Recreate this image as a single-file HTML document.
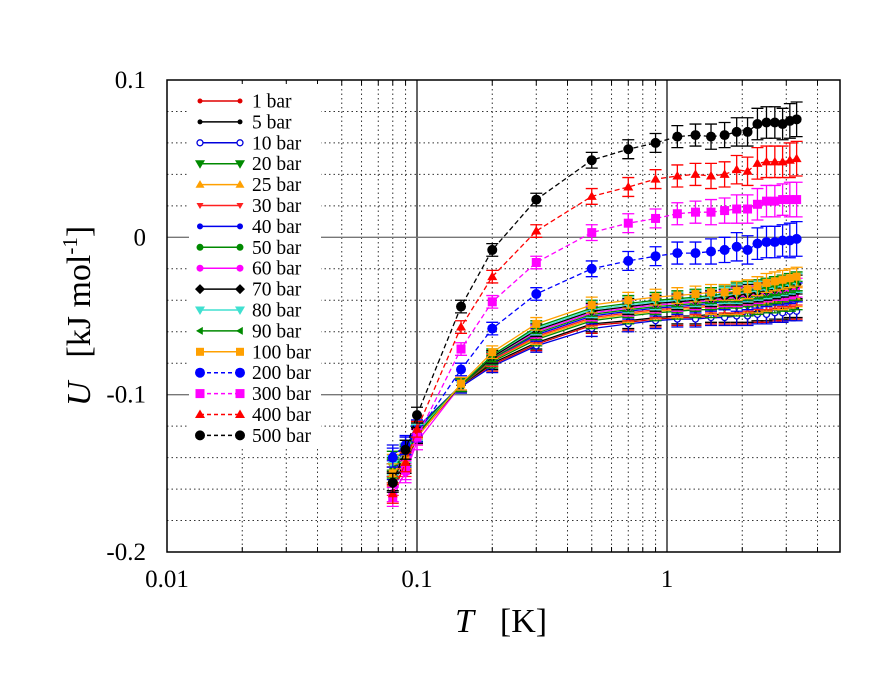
<!DOCTYPE html>
<html><head><meta charset="utf-8">
<style>
html,body{margin:0;padding:0;background:#fff;}
svg{display:block;font-family:"Liberation Serif",serif;}
</style></head>
<body>
<svg id="chart" width="872" height="674" viewBox="0 0 872 674" xmlns="http://www.w3.org/2000/svg">
<rect width="872" height="674" fill="#fff"/>
<g id="grid"></g>
<g id="series"></g>
<g id="frame"></g>
<g id="legend"></g>
<g id="labels">
<text x="455" y="632" font-size="34" text-anchor="start"><tspan font-style="italic">T</tspan><tspan dx="26">[K]</tspan></text>
<text transform="translate(90,316) rotate(-90)" font-size="34" text-anchor="middle"><tspan font-style="italic">U</tspan><tspan dx="24">[kJ mol</tspan><tspan font-size="21" dy="-13">-1</tspan><tspan dy="13">]</tspan></text>
</g>
</svg>
<script>
const T = [0.08,0.09,0.1,0.15,0.2,0.3,0.5,0.7,0.9,1.1,1.3,1.5,1.7,1.9,2.1,2.3,2.5,2.7,2.9,3.1,3.3];
const xTickValues = [0.01,0.1,1];
const xTickLabels = ["0.01","0.1","1"];
const yTickValues = [0.1,0,-0.1,-0.2];
const yTickLabels = ["0.1","0","-0.1","-0.2"];
const seriesNames = ["1 bar","5 bar","10 bar","20 bar","25 bar","30 bar","40 bar","50 bar","60 bar","70 bar","80 bar","90 bar","100 bar","200 bar","300 bar","400 bar","500 bar"];
const s1 = [-0.152,-0.142,-0.126,-0.094,-0.081,-0.068,-0.056,-0.054,-0.052,-0.051,-0.051,-0.050,-0.050,-0.049,-0.049,-0.048,-0.048,-0.047,-0.047,-0.046,-0.046];
const s5 = [-0.150,-0.141,-0.125,-0.094,-0.080,-0.067,-0.055,-0.053,-0.051,-0.050,-0.050,-0.049,-0.049,-0.048,-0.048,-0.047,-0.047,-0.046,-0.046,-0.045,-0.045];
const s10 = [-0.148,-0.140,-0.125,-0.095,-0.082,-0.069,-0.058,-0.055,-0.053,-0.052,-0.052,-0.051,-0.051,-0.050,-0.050,-0.049,-0.049,-0.048,-0.048,-0.047,-0.047];
const s20 = [-0.146,-0.138,-0.124,-0.094,-0.079,-0.065,-0.053,-0.050,-0.048,-0.047,-0.046,-0.046,-0.045,-0.044,-0.044,-0.043,-0.042,-0.042,-0.041,-0.041,-0.040];
const s25 = [-0.144,-0.137,-0.123,-0.094,-0.078,-0.064,-0.052,-0.049,-0.047,-0.046,-0.045,-0.044,-0.044,-0.043,-0.042,-0.042,-0.041,-0.040,-0.040,-0.039,-0.038];
const s30 = [-0.158,-0.146,-0.127,-0.094,-0.078,-0.063,-0.051,-0.048,-0.046,-0.045,-0.044,-0.043,-0.043,-0.042,-0.041,-0.040,-0.040,-0.039,-0.038,-0.038,-0.037];
const s40 = [-0.138,-0.133,-0.121,-0.094,-0.077,-0.062,-0.050,-0.047,-0.045,-0.044,-0.043,-0.042,-0.041,-0.041,-0.040,-0.039,-0.038,-0.037,-0.037,-0.036,-0.035];
const s50 = [-0.142,-0.135,-0.122,-0.094,-0.077,-0.061,-0.049,-0.046,-0.044,-0.043,-0.042,-0.041,-0.040,-0.039,-0.038,-0.037,-0.037,-0.036,-0.035,-0.034,-0.034];
const s60 = [-0.162,-0.150,-0.130,-0.094,-0.076,-0.060,-0.048,-0.045,-0.043,-0.042,-0.041,-0.040,-0.039,-0.038,-0.037,-0.036,-0.035,-0.034,-0.034,-0.033,-0.032];
const s70 = [-0.155,-0.144,-0.126,-0.094,-0.076,-0.059,-0.047,-0.044,-0.042,-0.041,-0.040,-0.039,-0.038,-0.037,-0.036,-0.035,-0.034,-0.033,-0.032,-0.031,-0.030];
const s80 = [-0.145,-0.137,-0.124,-0.094,-0.075,-0.058,-0.046,-0.043,-0.041,-0.040,-0.039,-0.038,-0.037,-0.036,-0.035,-0.034,-0.033,-0.032,-0.031,-0.030,-0.029];
const s90 = [-0.147,-0.139,-0.125,-0.094,-0.075,-0.057,-0.045,-0.042,-0.040,-0.039,-0.038,-0.037,-0.036,-0.035,-0.034,-0.033,-0.032,-0.031,-0.030,-0.029,-0.028];
const s100 = [-0.150,-0.141,-0.127,-0.093,-0.073,-0.055,-0.043,-0.040,-0.038,-0.037,-0.036,-0.035,-0.035,-0.034,-0.033,-0.031,-0.029,-0.028,-0.027,-0.026,-0.025];
const s200 = [-0.140,-0.132,-0.125,-0.084,-0.058,-0.036,-0.020,-0.015,-0.012,-0.010,-0.010,-0.009,-0.008,-0.006,-0.008,-0.004,-0.003,-0.003,-0.002,-0.002,-0.001];
const s300 = [-0.165,-0.148,-0.127,-0.071,-0.041,-0.016,0.003,0.009,0.012,0.015,0.016,0.016,0.017,0.018,0.018,0.021,0.023,0.023,0.024,0.024,0.024];
const s400 = [-0.163,-0.143,-0.122,-0.057,-0.025,0.004,0.026,0.032,0.037,0.039,0.040,0.039,0.040,0.043,0.042,0.047,0.048,0.048,0.048,0.049,0.050];
const s500 = [-0.156,-0.135,-0.113,-0.044,-0.008,0.024,0.049,0.056,0.060,0.064,0.065,0.064,0.065,0.067,0.067,0.072,0.073,0.073,0.072,0.074,0.075];
const errLow = [0.006,0.006,0.005,0.004,0.004,0.004,0.005,0.005,0.005,0.005,0.005,0.005,0.005,0.006,0.006,0.006,0.006,0.006,0.006,0.006,0.006];
const errHigh = [0.006,0.006,0.005,0.004,0.004,0.004,0.005,0.006,0.006,0.007,0.007,0.008,0.008,0.009,0.009,0.010,0.010,0.010,0.010,0.011,0.011];

const NS = "http://www.w3.org/2000/svg";
const L = 167, R = 840, TOP = 80, BOT = 552;
function xs(t){ return L + 250*Math.log10(t/0.01); }
function ys(v){ return TOP + (0.1 - v)/0.3*(BOT-TOP); }
function mk(tag, attrs, parent){ const e=document.createElementNS(NS,tag); for(const k in attrs) e.setAttribute(k,attrs[k]); parent.appendChild(e); return e; }

const grid = document.getElementById('grid');
[0.01,0.1,1].forEach(d=>{
  for(let m=1;m<=9;m++){
    const t=d*m, x=xs(t);
    if(x<=L+0.5||x>=R-0.5) continue;
    const solid = (m===1);
    const ln = mk('line',{x1:x,x2:x,y1:TOP,y2:BOT,stroke:solid?'#000':'#333','stroke-width':solid?1.2:1,'stroke-dasharray':solid?'none':'1.5,3'},grid);
    
    
  }
});
for(let i=1;i<15;i++){
  const v = 0.1 - i*0.02;
  const y = ys(v);
  const solid = (i===5||i===10);
  const ln = mk('line',{x1:L,x2:R,y1:y,y2:y,stroke:solid?'#777':'#333','stroke-width':solid?1.4:1,'stroke-dasharray':solid?'none':'1.5,3'},grid);
  
  
}

const frame = document.getElementById('frame');
const fr = mk('rect',{x:L,y:TOP,width:R-L,height:BOT-TOP,fill:'none',stroke:'#000','stroke-width':1.5},frame);


[0.01,0.1,1].forEach(d=>{
  for(let m=1;m<=9;m++){
    const x=xs(d*m); if(x>R) continue;
    const len = m===1?10:5;
    mk('line',{x1:x,x2:x,y1:BOT,y2:BOT-len,stroke:'#000','stroke-width':1},frame);
    mk('line',{x1:x,x2:x,y1:TOP,y2:TOP+len,stroke:'#000','stroke-width':1},frame);
  }
});
const labels = document.getElementById('labels');
xTickValues.forEach((v,i)=>{
  const t = mk('text',{x:xs(v),y:587,'font-size':25,'text-anchor':'middle'},labels);
  t.textContent = xTickLabels[i];
  
  
});
yTickValues.forEach((v,i)=>{
  const t = mk('text',{x:146,y:ys(v)+8,'font-size':25,'text-anchor':'end'},labels);
  t.textContent = yTickLabels[i];
  
  
});

const styles = [
 {c:'#e00000',m:'circle',r:2.5,dash:false},
 {c:'#000000',m:'circle',r:2.5,dash:false},
 {c:'#0000dd',m:'open',r:3,dash:false},
 {c:'#008a00',m:'tdown',r:5,dash:false},
 {c:'#ffa000',m:'tup',r:4.5,dash:false},
 {c:'#ff2020',m:'tdown',r:3.5,dash:false},
 {c:'#0000ee',m:'circle',r:3,dash:false},
 {c:'#008a00',m:'circle',r:3.5,dash:false},
 {c:'#ff00ff',m:'circle',r:3.5,dash:false},
 {c:'#000000',m:'diamond',r:5,dash:false},
 {c:'#40e0d0',m:'tdown',r:5,dash:false},
 {c:'#008a00',m:'tleft',r:4,dash:false},
 {c:'#ffa000',m:'square',r:4,dash:false},
 {c:'#0000ff',m:'circle',r:5,dash:true},
 {c:'#ff00ff',m:'square',r:4.5,dash:true},
 {c:'#ff0000',m:'tup',r:5,dash:true},
 {c:'#000000',m:'circle',r:5,dash:true}
];
const allSeries = [s1,s5,s10,s20,s25,s30,s40,s50,s60,s70,s80,s90,s100,s200,s300,s400,s500];

function marker(st,x,y,parent){
  const r=st.r,c=st.c; let e;
  if(st.m==='circle') e=mk('circle',{cx:x,cy:y,r:r,fill:c},parent);
  else if(st.m==='open') e=mk('circle',{cx:x,cy:y,r:r,fill:'#fff',stroke:c,'stroke-width':1.3},parent);
  else if(st.m==='square') e=mk('rect',{x:x-r,y:y-r,width:2*r,height:2*r,fill:c},parent);
  else if(st.m==='diamond') e=mk('polygon',{points:`${x},${y-r} ${x+r},${y} ${x},${y+r} ${x-r},${y}`,fill:c},parent);
  else if(st.m==='tup') e=mk('polygon',{points:`${x},${y-r} ${x+r},${y+r*0.7} ${x-r},${y+r*0.7}`,fill:c},parent);
  else if(st.m==='tdown') e=mk('polygon',{points:`${x},${y+r} ${x+r},${y-r*0.7} ${x-r},${y-r*0.7}`,fill:c},parent);
  else if(st.m==='tleft') e=mk('polygon',{points:`${x-r},${y} ${x+r*0.7},${y-r} ${x+r*0.7},${y+r}`,fill:c},parent);
  return e;
}

const sg = document.getElementById('series');
allSeries.forEach((vals,si)=>{
  const st = styles[si];
  const err = si>=13 ? errHigh : errLow;
  const g = mk('g',{},sg);
  
  
  const pts = vals.map((v,i)=>xs(T[i]).toFixed(1)+','+ys(v).toFixed(1)).join(' ');
  const pl = mk('polyline',{points:pts,fill:'none',stroke:st.c,'stroke-width':1.3,'stroke-dasharray':st.dash?'5,3':'none'},g);
  
  
  vals.forEach((v,i)=>{
    const x=xs(T[i]), y1=ys(v+err[i]), y2=ys(v-err[i]);
    const eb = mk('path',{d:`M${x},${y1}V${y2}M${x-6},${y1}H${x+6}M${x-6},${y2}H${x+6}`,stroke:st.c,'stroke-width':1.3,fill:'none'},g);
    
    
    const m = marker(st,x,ys(v),g);
    
    
  });
});

const lg = document.getElementById('legend');
const bg = mk('rect',{x:189,y:84,width:132,height:364,fill:'#fff'},lg);


seriesNames.forEach((nm,i)=>{
  const st=styles[i], y=101+i*20.9;
  const g = mk('g',{},lg);
  
  
  mk('line',{x1:200,x2:240,y1:y,y2:y,stroke:st.c,'stroke-width':1.5,'stroke-dasharray':st.dash?'4,3':'none'},g);
  marker(st,200,y,g); marker(st,240,y,g);
  const t = mk('text',{x:252,y:y+6.5,'font-size':19.5},g);
  t.textContent = nm;
});
</script>
</body></html>
